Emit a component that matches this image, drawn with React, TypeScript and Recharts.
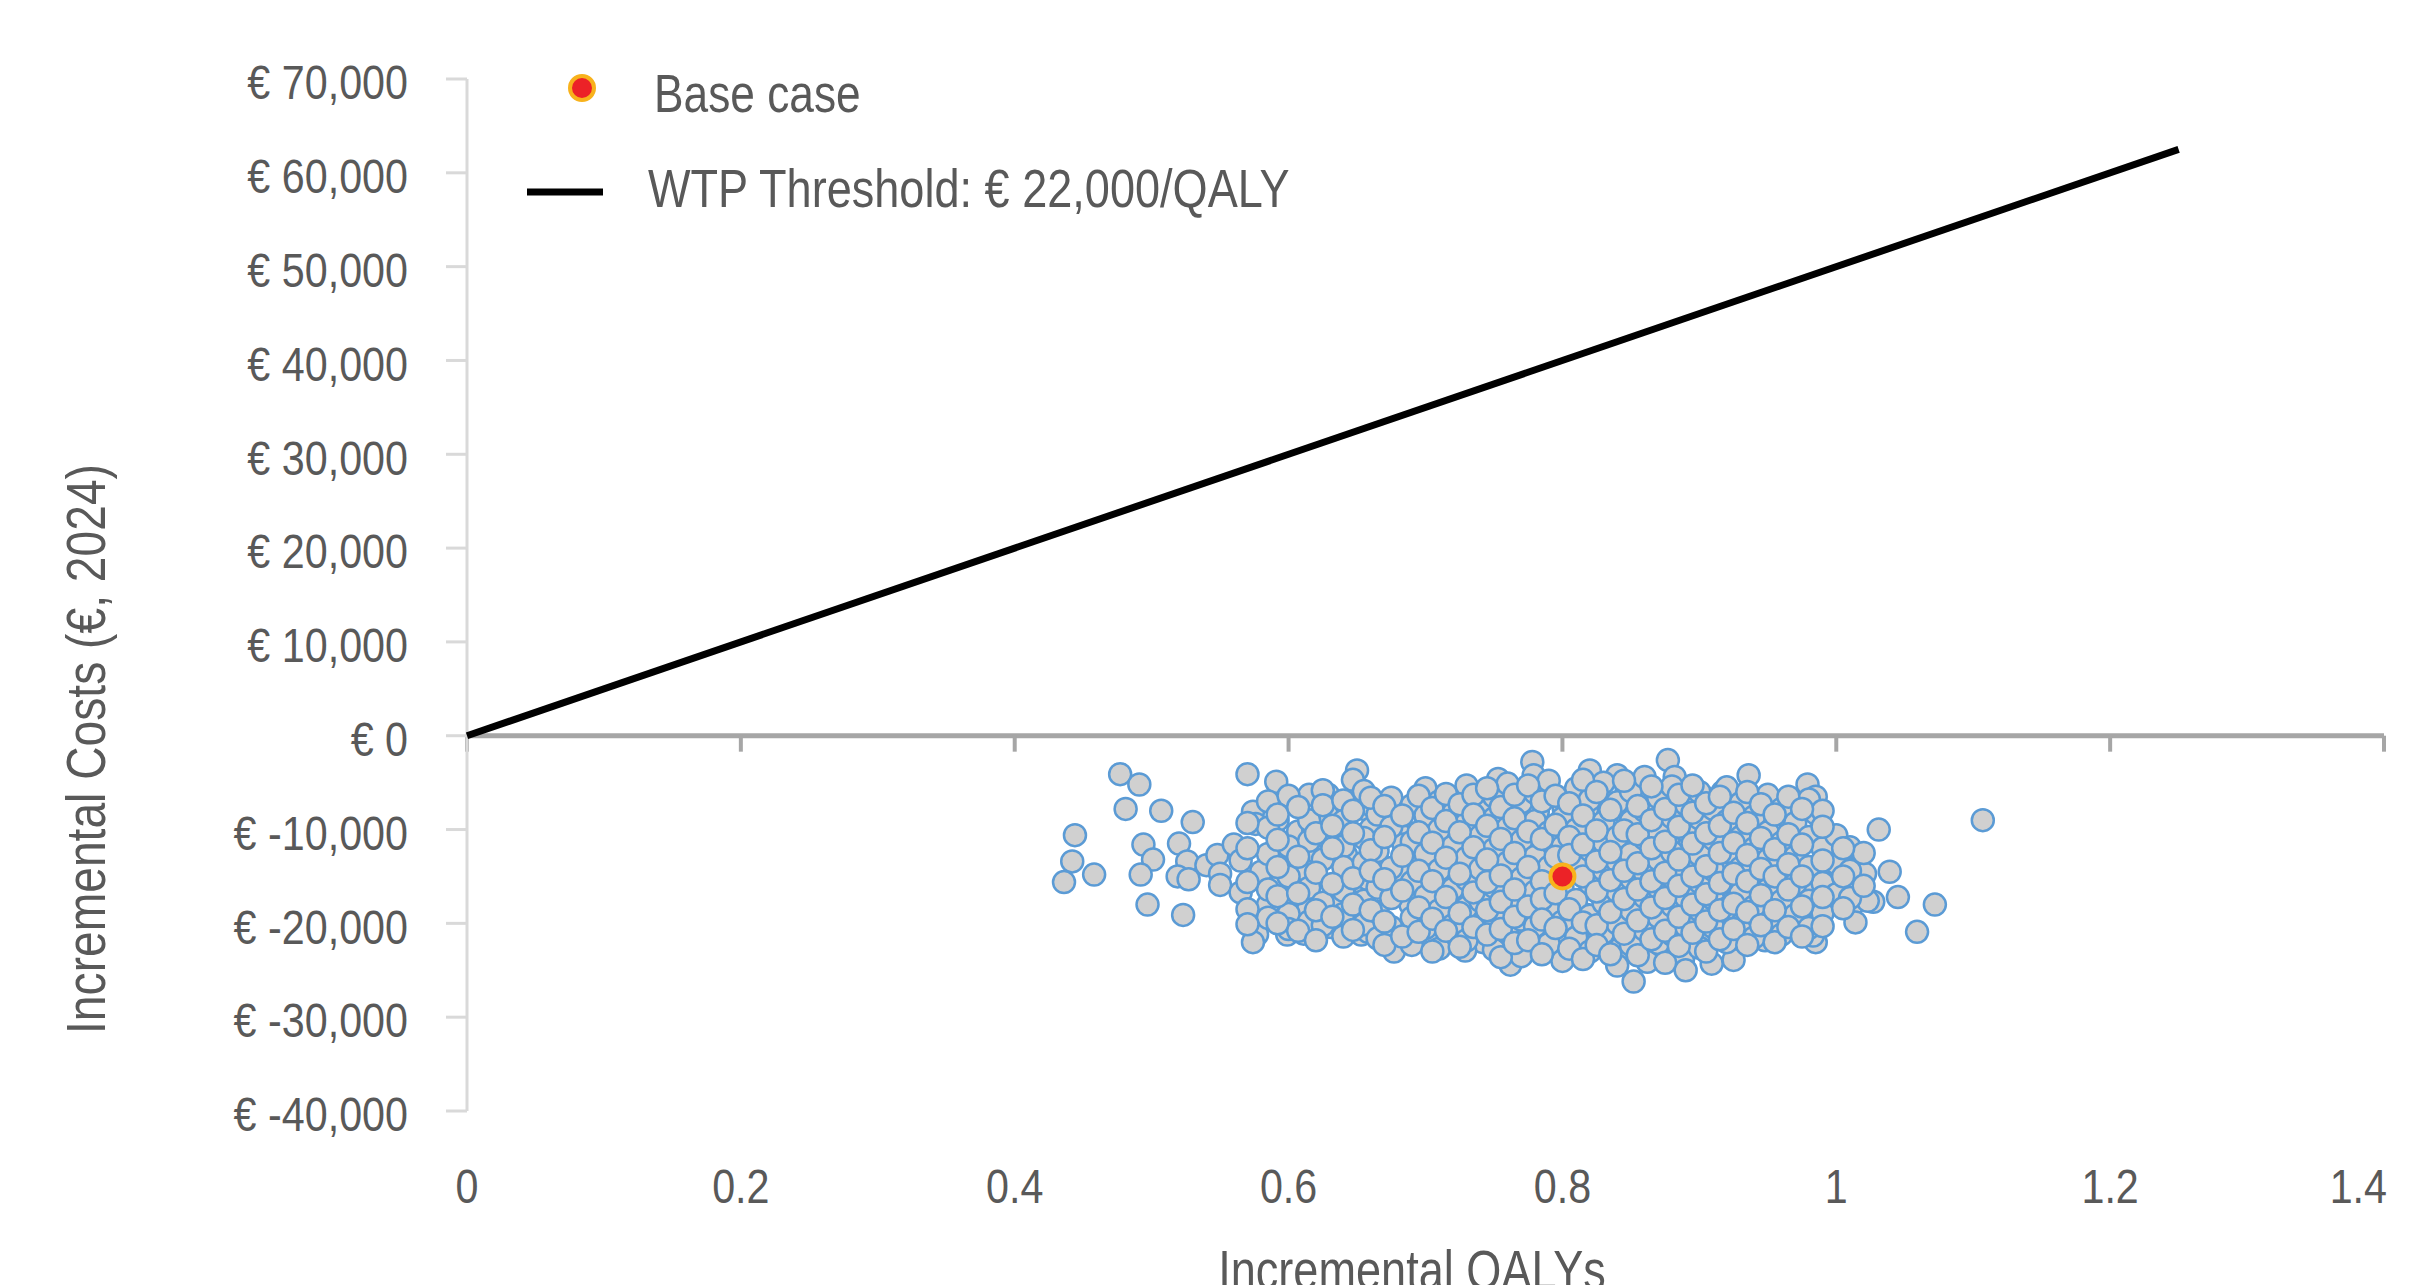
import React from 'react';
import {
  ScatterChart,
  Scatter,
  XAxis,
  YAxis,
  ReferenceLine,
  Legend,
  Label,
} from 'recharts';

// PSA iterations: [incremental QALYs, incremental costs (€)]
const psaPoints: [number, number][] = [
  // left tail
  [0.477, -4100], [0.491, -5200], [0.481, -7800], [0.507, -8000], [0.530, -9200],
  [0.444, -10600], [0.442, -13400], [0.458, -14800], [0.436, -15600], [0.494, -11600],
  [0.501, -13200], [0.492, -14800], [0.520, -11500], [0.526, -13400], [0.519, -15000],
  [0.527, -15300], [0.540, -13800], [0.548, -12700], [0.550, -14700], [0.550, -15900],
  [0.560, -11600], [0.497, -18000], [0.523, -19100], [0.570, -4100], [0.591, -4900],
  [0.650, -3700], [0.647, -4700], [0.615, -6300], [0.629, -6300], [0.574, -8100],
  [0.576, -9400], [0.592, -9000], [0.607, -10200], [0.618, -10000], [0.589, -12400],
  [0.621, -12900], [0.640, -10200], [0.642, -12700], [0.580, -14500], [0.601, -14200],
  [0.614, -14500], [0.594, -15900], [0.653, -15600], [0.636, -17400], [0.585, -18000],
  [0.599, -17700], [0.614, -18600], [0.577, -21200], [0.574, -22000], [0.599, -21200],
  [0.611, -21100], [0.631, -20400], [0.653, -21200], [0.655, -7800], [0.628, -8400],
  // middle
  [0.778, -2800], [0.779, -4200], [0.820, -3700], [0.877, -2600], [0.882, -4400],
  [0.840, -4200], [0.753, -4600], [0.660, -7400], [0.727, -6300], [0.755, -6000],
  [0.782, -8100], [0.801, -7800], [0.818, -7900], [0.845, -8100], [0.859, -7000],
  [0.847, -5700], [0.886, -7400], [0.713, -7800], [0.700, -9500], [0.682, -10600],
  [0.660, -9900], [0.726, -11000], [0.747, -10200], [0.767, -10600], [0.788, -11600],
  [0.828, -10600], [0.869, -9500], [0.845, -12700], [0.864, -12100], [0.886, -11300],
  [0.662, -11600], [0.684, -11600], [0.696, -13200], [0.728, -13800], [0.757, -14500],
  [0.779, -14800], [0.820, -14500], [0.840, -15600], [0.869, -13800], [0.886, -16300],
  [0.658, -15300], [0.682, -14500], [0.716, -15900], [0.745, -17000], [0.764, -17400],
  [0.796, -18000], [0.818, -19100], [0.835, -19500], [0.857, -18500], [0.874, -19900],
  [0.689, -18000], [0.662, -19500], [0.726, -19500], [0.753, -19100], [0.711, -22000],
  [0.742, -22000], [0.767, -23400], [0.762, -24400], [0.789, -21700], [0.826, -21700],
  [0.842, -22700], [0.862, -24100], [0.852, -26200], [0.881, -23800], [0.677, -23000],
  [0.701, -21200], [0.658, -20900], [0.729, -22900], [0.796, -21600],
  // right side
  [0.936, -4200], [0.979, -5200], [0.985, -6500], [0.917, -6000], [0.903, -6500],
  [0.926, -6700], [0.965, -8900], [0.985, -8300], [0.985, -10600], [0.904, -9500],
  [0.924, -9700], [0.943, -9700], [1.031, -10000], [1.107, -9000], [1.010, -12200],
  [0.969, -12400], [0.954, -11600], [0.893, -11300], [0.904, -13100], [0.920, -13700],
  [0.945, -13800], [0.979, -14200], [1.021, -14700], [1.039, -14500], [1.001, -15300],
  [0.888, -13800], [0.888, -16700], [0.926, -17200], [0.950, -17700], [0.979, -16900],
  [0.997, -16700], [1.012, -18000], [1.027, -17700], [1.045, -17200], [1.072, -18000],
  [1.059, -20900], [1.014, -19900], [0.988, -18800], [0.975, -19900], [0.957, -19500],
  [0.902, -19600], [0.923, -19900], [0.939, -19500], [0.948, -21800], [0.985, -22000],
  [0.909, -24300], [0.925, -23900], [0.888, -23900], [0.908, -21200], [0.983, -21300],
  [1.023, -17600],
  // dense core
  [0.585, -7000], [0.585, -9800], [0.585, -12600], [0.585, -16400], [0.585, -19400],
  [0.600, -6400], [0.600, -11800], [0.600, -15000], [0.600, -19000], [0.600, -20600],
  [0.615, -9000], [0.615, -11200], [0.615, -16200], [0.615, -19800],
  [0.625, -5800], [0.625, -7400], [0.625, -13200], [0.625, -17800], [0.625, -20200],
  [0.640, -6900], [0.640, -9100], [0.640, -11800], [0.640, -14000], [0.640, -16500], [0.640, -19000], [0.640, -21400],
  [0.655, -5900], [0.655, -10900], [0.655, -13500], [0.655, -17600], [0.655, -20100],
  [0.665, -8400], [0.665, -12300], [0.665, -16200], [0.665, -18800], [0.665, -21600],
  [0.675, -6600], [0.675, -9700], [0.675, -14100], [0.675, -17300], [0.675, -20400],
  [0.690, -7400], [0.690, -11300], [0.690, -15600], [0.690, -19400], [0.690, -22300],
  [0.700, -5600], [0.700, -8500], [0.700, -12600], [0.700, -17100], [0.700, -20500],
  [0.710, -7000], [0.710, -10000], [0.710, -14300], [0.710, -18600], [0.710, -22700],
  [0.720, -8300], [0.720, -11800], [0.720, -16300], [0.720, -20200],
  [0.730, -5300], [0.730, -9300], [0.730, -13000], [0.730, -15300], [0.730, -18300], [0.730, -21800],
  [0.740, -7200], [0.740, -10700], [0.740, -14200], [0.740, -17600], [0.740, -20500],
  [0.750, -6500], [0.750, -8800], [0.750, -12100], [0.750, -16100], [0.750, -19300], [0.750, -22800],
  [0.760, -5100], [0.760, -9800], [0.760, -13500], [0.760, -17800], [0.760, -21000],
  [0.770, -7100], [0.770, -11200], [0.770, -15200], [0.770, -19600], [0.770, -23500],
  [0.780, -6100], [0.780, -9100], [0.780, -12900], [0.780, -16600], [0.780, -20300],
  [0.790, -4800], [0.790, -10300], [0.790, -14000], [0.790, -18600], [0.790, -22200],
  [0.800, -8800], [0.800, -11800], [0.800, -16100], [0.800, -19800], [0.800, -24000],
  [0.810, -5600], [0.810, -10000], [0.810, -13600], [0.810, -17500], [0.810, -21500],
  [0.820, -6800], [0.820, -12200], [0.820, -15700], [0.820, -19200], [0.820, -23000],
  [0.830, -5000], [0.830, -9200], [0.830, -11300], [0.830, -14300], [0.830, -17800], [0.830, -21000],
  [0.840, -7100], [0.840, -10800], [0.840, -13400], [0.840, -16600], [0.840, -20000], [0.840, -24500],
  [0.850, -5900], [0.850, -9100], [0.850, -12600], [0.850, -15200], [0.850, -18600], [0.850, -22300],
  [0.860, -4400], [0.860, -8000], [0.860, -11000], [0.860, -14600], [0.860, -17200], [0.860, -20700],
  [0.870, -6600], [0.870, -10200], [0.870, -13200], [0.870, -16200], [0.870, -19300], [0.870, -22100],
  [0.880, -5400], [0.880, -8700], [0.880, -12400], [0.880, -15100], [0.880, -18100], [0.880, -21200],
  [0.890, -7300], [0.890, -10100], [0.890, -14500], [0.890, -17200], [0.890, -20300], [0.890, -25000],
  [0.900, -6000], [0.900, -8800], [0.900, -12700], [0.900, -15600], [0.900, -18600], [0.900, -22600],
  [0.910, -7800], [0.910, -11000], [0.910, -14300], [0.910, -17400], [0.910, -20400],
  [0.920, -5500], [0.920, -9100], [0.920, -12400], [0.920, -15600], [0.920, -18400], [0.920, -22000],
  [0.930, -7200], [0.930, -10800], [0.930, -14100], [0.930, -16800], [0.930, -20700],
  [0.940, -8600], [0.940, -12000], [0.940, -15400], [0.940, -18200], [0.940, -21500],
  [0.950, -6300], [0.950, -10300], [0.950, -13200], [0.950, -16400], [0.950, -20000],
  [0.960, -7800], [0.960, -11400], [0.960, -14900], [0.960, -17600], [0.960, -21200],
  [0.970, -9300], [0.970, -12900], [0.970, -15800], [0.970, -19100],
  [0.980, -6800], [0.980, -10800], [0.980, -14000], [0.980, -17600], [0.980, -20500],
  [0.990, -8000], [0.990, -12000], [0.990, -15700], [0.990, -18900],
  [1.000, -10600], [1.000, -13600], [1.000, -16900],
  [1.010, -11900], [1.010, -14400], [1.010, -17300],
  [1.020, -12500], [1.020, -16000],
  // dense core, second layer
  [0.565, -13300], [0.565, -16700],
  [0.570, -9300], [0.570, -12000], [0.570, -15600], [0.570, -18500], [0.570, -20100],
  [0.592, -8400], [0.592, -11100], [0.592, -14000], [0.592, -17100], [0.592, -20000],
  [0.607, -7600], [0.607, -12900], [0.607, -16800], [0.607, -20800],
  [0.620, -10400], [0.620, -14600], [0.620, -18600], [0.620, -21800],
  [0.632, -9600], [0.632, -12000], [0.632, -15800], [0.632, -19300],
  [0.647, -8000], [0.647, -10400], [0.647, -15200], [0.647, -18000], [0.647, -20700],
  [0.660, -6600], [0.660, -12200], [0.660, -14400], [0.660, -18600],
  [0.670, -7500], [0.670, -10800], [0.670, -15300], [0.670, -19800], [0.670, -22300],
  [0.683, -8500], [0.683, -12800], [0.683, -16500], [0.683, -21400],
  [0.695, -6400], [0.695, -10300], [0.695, -14400], [0.695, -18300], [0.695, -20900],
  [0.705, -7700], [0.705, -11400], [0.705, -15500], [0.705, -19500], [0.705, -23000],
  [0.715, -6200], [0.715, -9100], [0.715, -13000], [0.715, -17200], [0.715, -20800],
  [0.725, -7300], [0.725, -10300], [0.725, -14700], [0.725, -18900], [0.725, -22500],
  [0.735, -6300], [0.735, -8400], [0.735, -11900], [0.735, -16700], [0.735, -20400],
  [0.745, -5600], [0.745, -9600], [0.745, -13200], [0.745, -15600], [0.745, -18600], [0.745, -21200],
  [0.755, -7600], [0.755, -11000], [0.755, -14900], [0.755, -17700], [0.755, -20600], [0.755, -23600],
  [0.765, -6300], [0.765, -8800], [0.765, -12500], [0.765, -16400], [0.765, -19300], [0.765, -22100],
  [0.775, -5300], [0.775, -10200], [0.775, -14000], [0.775, -18200], [0.775, -21800],
  [0.785, -7000], [0.785, -11000], [0.785, -15500], [0.785, -17400], [0.785, -19600], [0.785, -23300],
  [0.795, -6400], [0.795, -9500], [0.795, -12900], [0.795, -16800], [0.795, -20500],
  [0.805, -7200], [0.805, -10800], [0.805, -12700], [0.805, -18500], [0.805, -22700],
  [0.815, -4700], [0.815, -8500], [0.815, -11600], [0.815, -15000], [0.815, -19900], [0.815, -23800],
  [0.825, -6000], [0.825, -10100], [0.825, -13400], [0.825, -16600], [0.825, -20200], [0.825, -22300],
  [0.835, -7900], [0.835, -12400], [0.835, -15400], [0.835, -18800], [0.835, -23300],
  [0.845, -4800], [0.845, -10100], [0.845, -14400], [0.845, -17400], [0.845, -21100],
  [0.855, -7500], [0.855, -10500], [0.855, -13600], [0.855, -16400], [0.855, -19700], [0.855, -23400],
  [0.865, -5400], [0.865, -9000], [0.865, -12000], [0.865, -15500], [0.865, -18300], [0.865, -21700],
  [0.875, -7800], [0.875, -11300], [0.875, -14600], [0.875, -17300], [0.875, -20800], [0.875, -24200],
  [0.885, -6300], [0.885, -9700], [0.885, -13200], [0.885, -16000], [0.885, -19300], [0.885, -22400],
  [0.895, -5300], [0.895, -8200], [0.895, -11500], [0.895, -15000], [0.895, -18000], [0.895, -21000],
  [0.905, -7200], [0.905, -10400], [0.905, -13900], [0.905, -16900], [0.905, -19800], [0.905, -23000],
  [0.915, -6500], [0.915, -9600], [0.915, -12500], [0.915, -15700], [0.915, -18600], [0.915, -21700],
  [0.925, -8200], [0.925, -11400], [0.925, -14700], [0.925, -17900], [0.925, -20600],
  [0.935, -6000], [0.935, -9300], [0.935, -12700], [0.935, -15500], [0.935, -18800], [0.935, -22300],
  [0.945, -7300], [0.945, -10900], [0.945, -14200], [0.945, -17000], [0.945, -20200],
  [0.955, -8400], [0.955, -12100], [0.955, -15000], [0.955, -18600], [0.955, -22000],
  [0.965, -6500], [0.965, -10500], [0.965, -13700], [0.965, -16400], [0.965, -20400],
  [0.975, -7800], [0.975, -11600], [0.975, -15000], [0.975, -18200], [0.975, -21400],
  [0.990, -9700], [0.990, -13300], [0.990, -17200], [0.990, -20300],
  [1.005, -12000], [1.005, -15000], [1.005, -18400],
];

const baseCaseQaly = [0.8];
const baseCaseCost = [-15000];

// WTP line endpoints
const wtpQalys = [0, 1.25];
const wtpCosts = [0, 62500];

const xTicks = [0, 0.2, 0.4, 0.6, 0.8, 1, 1.2, 1.4];
const yTicks = [-40000, -30000, -20000, -10000, 0, 10000, 20000, 30000, 40000, 50000, 60000, 70000];

const psaData = psaPoints.map(([qaly, cost]) => ({ qaly, cost }));
const baseData = baseCaseQaly.map((qaly, i) => ({ qaly, cost: baseCaseCost[i] }));
const wtpData = wtpQalys.map((qaly, i) => ({ qaly, cost: wtpCosts[i] }));

// condensed look: Liberation Sans squeezed horizontally
const FONT = "'Liberation Sans', Arial, sans-serif";
const TEXT = '#595959';

const formatEuro = (v: number) => `€ ${v.toLocaleString('en-US')}`;

const Narrow = ({ x, y, sx = 0.86, size = 48, anchor = 'start', dy, rotate, children }: any) => (
  <text
    transform={`translate(${x} ${y})${rotate ? ` rotate(${rotate})` : ''} scale(${sx} 1)`}
    textAnchor={anchor}
    dy={dy}
    fontSize={size}
    fill={TEXT}
    fontFamily={FONT}
  >
    {children}
  </text>
);

const XTick = (p: any) => {
  const last = p.payload.value === xTicks[xTicks.length - 1];
  return (
    <Narrow x={last ? p.x + 3 : p.x} y={p.y} anchor={last ? 'end' : 'middle'} dy="0.71em">
      {String(p.payload.value)}
    </Narrow>
  );
};

const YTick = (p: any) => (
  <Narrow x={p.x} y={p.y + 3} anchor="end" dy="0.36em">{formatEuro(p.payload.value)}</Narrow>
);

const PsaDot = (p: any) => (
  <circle cx={p.cx} cy={p.cy} r={11} fill="#d0d0d0" stroke="#5b9bd5" strokeWidth={2.5} />
);

const BaseDot = (p: any) => (
  <circle cx={p.cx} cy={p.cy} r={12} fill="#ec2227" stroke="#f8b21c" strokeWidth={4} />
);

const renderLegend = () => (
  <svg width={1400} height={240}>
    <circle cx={582} cy={88} r={12} fill="#ec2227" stroke="#f8b21c" strokeWidth={4} />
    <Narrow x={654} y={112} size={54} sx={0.82}>Base case</Narrow>
    <line x1={527} y1={192} x2={603} y2={192} stroke="#000" strokeWidth={7} />
    <Narrow x={648} y={207} size={54} sx={0.835}>WTP Threshold: € 22,000/QALY</Narrow>
  </svg>
);

export default function App() {
  return (
    <div style={{ position: 'absolute', left: 0, top: 0, background: '#fff' }}>
      <ScatterChart
        width={2435}
        height={1285}
        margin={{ top: 79, right: 51, bottom: 0, left: 0 }}
      >
        <XAxis
          type="number"
          dataKey="qaly"
          domain={[0, 1.4]}
          ticks={xTicks}
          axisLine={false}
          tickLine={false}
          tickSize={0}
          tickMargin={58}
          height={174}
          tick={XTick}
        >
          <Label
            content={() => (
              <Narrow x={1412} y={1289} size={55} sx={0.82} anchor="middle">
                Incremental QALYs
              </Narrow>
            )}
          />
        </XAxis>
        <YAxis
          type="number"
          dataKey="cost"
          domain={[-40000, 70000]}
          ticks={yTicks}
          width={467}
          stroke="#d9d9d9"
          strokeWidth={3}
          tickSize={21}
          tickMargin={38}
          tickLine={{ stroke: '#d9d9d9', strokeWidth: 3 }}
          tick={YTick}
        >
          <Label
            content={() => (
              <Narrow x={105} y={749} size={55} sx={0.84} anchor="middle" rotate={-90}>
                Incremental Costs (€, 2024)
              </Narrow>
            )}
          />
        </YAxis>
        <ReferenceLine y={0} stroke="#a6a6a6" strokeWidth={5} />
        {xTicks.map((t) => (
          <ReferenceLine
            key={t}
            segment={[{ x: t, y: 0 }, { x: t, y: -1700 }]}
            stroke="#a6a6a6"
            strokeWidth={4}
          />
        ))}
        <Legend
          layout="horizontal"
          verticalAlign="middle"
          align="center"
          content={renderLegend}
          wrapperStyle={{ left: 0, top: 0, width: 1400, height: 240 }}
        />
        <Scatter
          name="PSA"
          data={psaData}
          shape={PsaDot}
          legendType="none"
          isAnimationActive={false}
        />
        <Scatter
          name="WTP Threshold: € 22,000/QALY"
          data={wtpData}
          line={{ stroke: '#000', strokeWidth: 7 }}
          shape={() => <g />}
          isAnimationActive={false}
        />
        <Scatter
          name="Base case"
          data={baseData}
          shape={BaseDot}
          isAnimationActive={false}
        />
      </ScatterChart>
    </div>
  );
}
